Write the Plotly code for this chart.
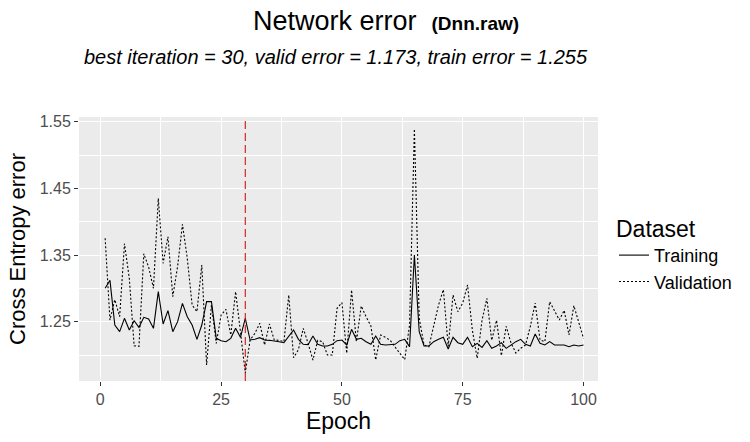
import plotly.graph_objects as go

epochs = list(range(1, 101))
train_error = [
    1.300, 1.312, 1.245, 1.235, 1.255, 1.2375, 1.2515, 1.2415, 1.2565, 1.254,
    1.240, 1.295, 1.2465, 1.2665, 1.235, 1.250, 1.2775, 1.2575, 1.245, 1.2235,
    1.245, 1.280, 1.280, 1.225, 1.2215, 1.220, 1.225, 1.240, 1.2265, 1.255,
    1.2225, 1.2235, 1.226, 1.2225, 1.222, 1.2215, 1.220, 1.2185, 1.228, 1.2375,
    1.2235, 1.216, 1.2155, 1.2285, 1.216, 1.2135, 1.2135, 1.216, 1.2215, 1.2225,
    1.215, 1.2385, 1.2235, 1.225, 1.220, 1.216, 1.2285, 1.216, 1.215, 1.216,
    1.216, 1.2215, 1.2235, 1.2125, 1.350, 1.235, 1.2135, 1.2135, 1.220, 1.2235,
    1.2265, 1.209, 1.2265, 1.2185, 1.216, 1.2265, 1.2125, 1.2175, 1.2115, 1.2215,
    1.210, 1.2135, 1.2185, 1.210, 1.215, 1.220, 1.2235, 1.216, 1.2135, 1.2315,
    1.2175, 1.215, 1.220, 1.215, 1.215, 1.215, 1.2125, 1.215, 1.2135, 1.215,
]
valid_error = [
    1.375, 1.2525, 1.283, 1.2575, 1.367, 1.315, 1.214, 1.213, 1.352, 1.332,
    1.300, 1.435, 1.3375, 1.3775, 1.2875, 1.333, 1.396, 1.345, 1.275, 1.265,
    1.335, 1.185, 1.275, 1.2175, 1.260, 1.2685, 1.230, 1.295, 1.235, 1.173,
    1.2225, 1.2325, 1.2475, 1.215, 1.2465, 1.2225, 1.222, 1.220, 1.290, 1.196,
    1.208, 1.240, 1.2175, 1.1925, 1.222, 1.220, 1.200, 1.200, 1.270, 1.2785,
    1.2025, 1.2975, 1.220, 1.2735, 1.2575, 1.2435, 1.1925, 1.230, 1.2265, 1.222,
    1.212, 1.202, 1.193, 1.245, 1.539, 1.255, 1.215, 1.2125, 1.245, 1.275,
    1.298, 1.213, 1.290, 1.265, 1.278, 1.305, 1.237, 1.195, 1.252, 1.285,
    1.222, 1.252, 1.199, 1.243, 1.218, 1.203, 1.210, 1.215, 1.243, 1.278,
    1.2225, 1.220, 1.280, 1.265, 1.2525, 1.267, 1.230, 1.274, 1.250, 1.225,
]
best_iteration = 30
x_ticks = [0, 25, 50, 75, 100]
y_ticks = [1.25, 1.35, 1.45, 1.55]
y_tick_labels = ["1.25", "1.35", "1.45", "1.55"]

FONT = "Liberation Sans, Arial, sans-serif"

fig = go.Figure()
fig.add_trace(go.Scatter(x=epochs, y=train_error, mode="lines", name="Training",
                         line=dict(color="black", width=1.1)))
fig.add_trace(go.Scatter(x=epochs, y=valid_error, mode="lines", name="Validation",
                         line=dict(color="black", width=1.1, dash="2px,2px")))
fig.add_vline(x=best_iteration, line=dict(color="#CC0000", width=1, dash="8px,4px"))

fig.update_layout(
    width=750, height=442,
    margin=dict(l=79, r=152, t=117, b=61, autoexpand=False),
    paper_bgcolor="white", plot_bgcolor="#EBEBEB",
    font=dict(family=FONT, color="black"),
    showlegend=True,
    legend=dict(
        title=dict(text="Dataset", font=dict(size=23, color="black")),
        font=dict(size=18, color="black"),
        x=(614 - 79) / 519, y=(381 - 207) / 264, xanchor="left", yanchor="top",
        bgcolor="white", tracegroupgap=0, itemwidth=30,
    ),
    annotations=[
        dict(text="Network error  <b><span style='font-size:19px'>(Dnn.raw)</span></b>",
             x=(386 - 79) / 519, y=(381 - 21) / 264, xref="paper", yref="paper",
             xanchor="center", yanchor="middle", showarrow=False,
             font=dict(size=27, color="black", family=FONT)),
        dict(text="<i>best iteration = 30, valid error = 1.173, train error = 1.255</i>",
             x=(336 - 79) / 519, y=(381 - 57) / 264, xref="paper", yref="paper",
             xanchor="center", yanchor="middle", showarrow=False,
             font=dict(size=20, color="black", family=FONT)),
    ],
)
fig.update_xaxes(
    range=[-4.41, 103.0], tickvals=x_ticks, ticktext=[str(v) for v in x_ticks],
    showgrid=True, gridcolor="white", gridwidth=1.3, zeroline=False,
    ticks="outside", ticklen=4, tickcolor="#333333", tickwidth=1,
    tickfont=dict(size=16, color="#4D4D4D"),
    minor=dict(tickvals=[12.5, 37.5, 62.5, 87.5], showgrid=True, gridcolor="white", gridwidth=0.6, ticks=""),
    title=dict(text="Epoch", font=dict(size=23, color="black"), standoff=5),
    showline=False, automargin=False,
)
fig.update_yaxes(
    range=[1.161, 1.557], tickvals=y_ticks, ticktext=y_tick_labels,
    showgrid=True, gridcolor="white", gridwidth=1.3, zeroline=False,
    ticks="outside", ticklen=4, tickcolor="#333333", tickwidth=1,
    tickfont=dict(size=16, color="#4D4D4D"),
    minor=dict(tickvals=[1.20, 1.30, 1.40, 1.50], showgrid=True, gridcolor="white", gridwidth=0.6, ticks=""),
    title=dict(text="Cross Entropy error", font=dict(size=22, color="black"), standoff=7),
    showline=False, automargin=False,
)

fig.write_html("out.html", config={"displayModeBar": False},
               post_script="document.body.style.margin='0';document.body.style.overflow='hidden';")
